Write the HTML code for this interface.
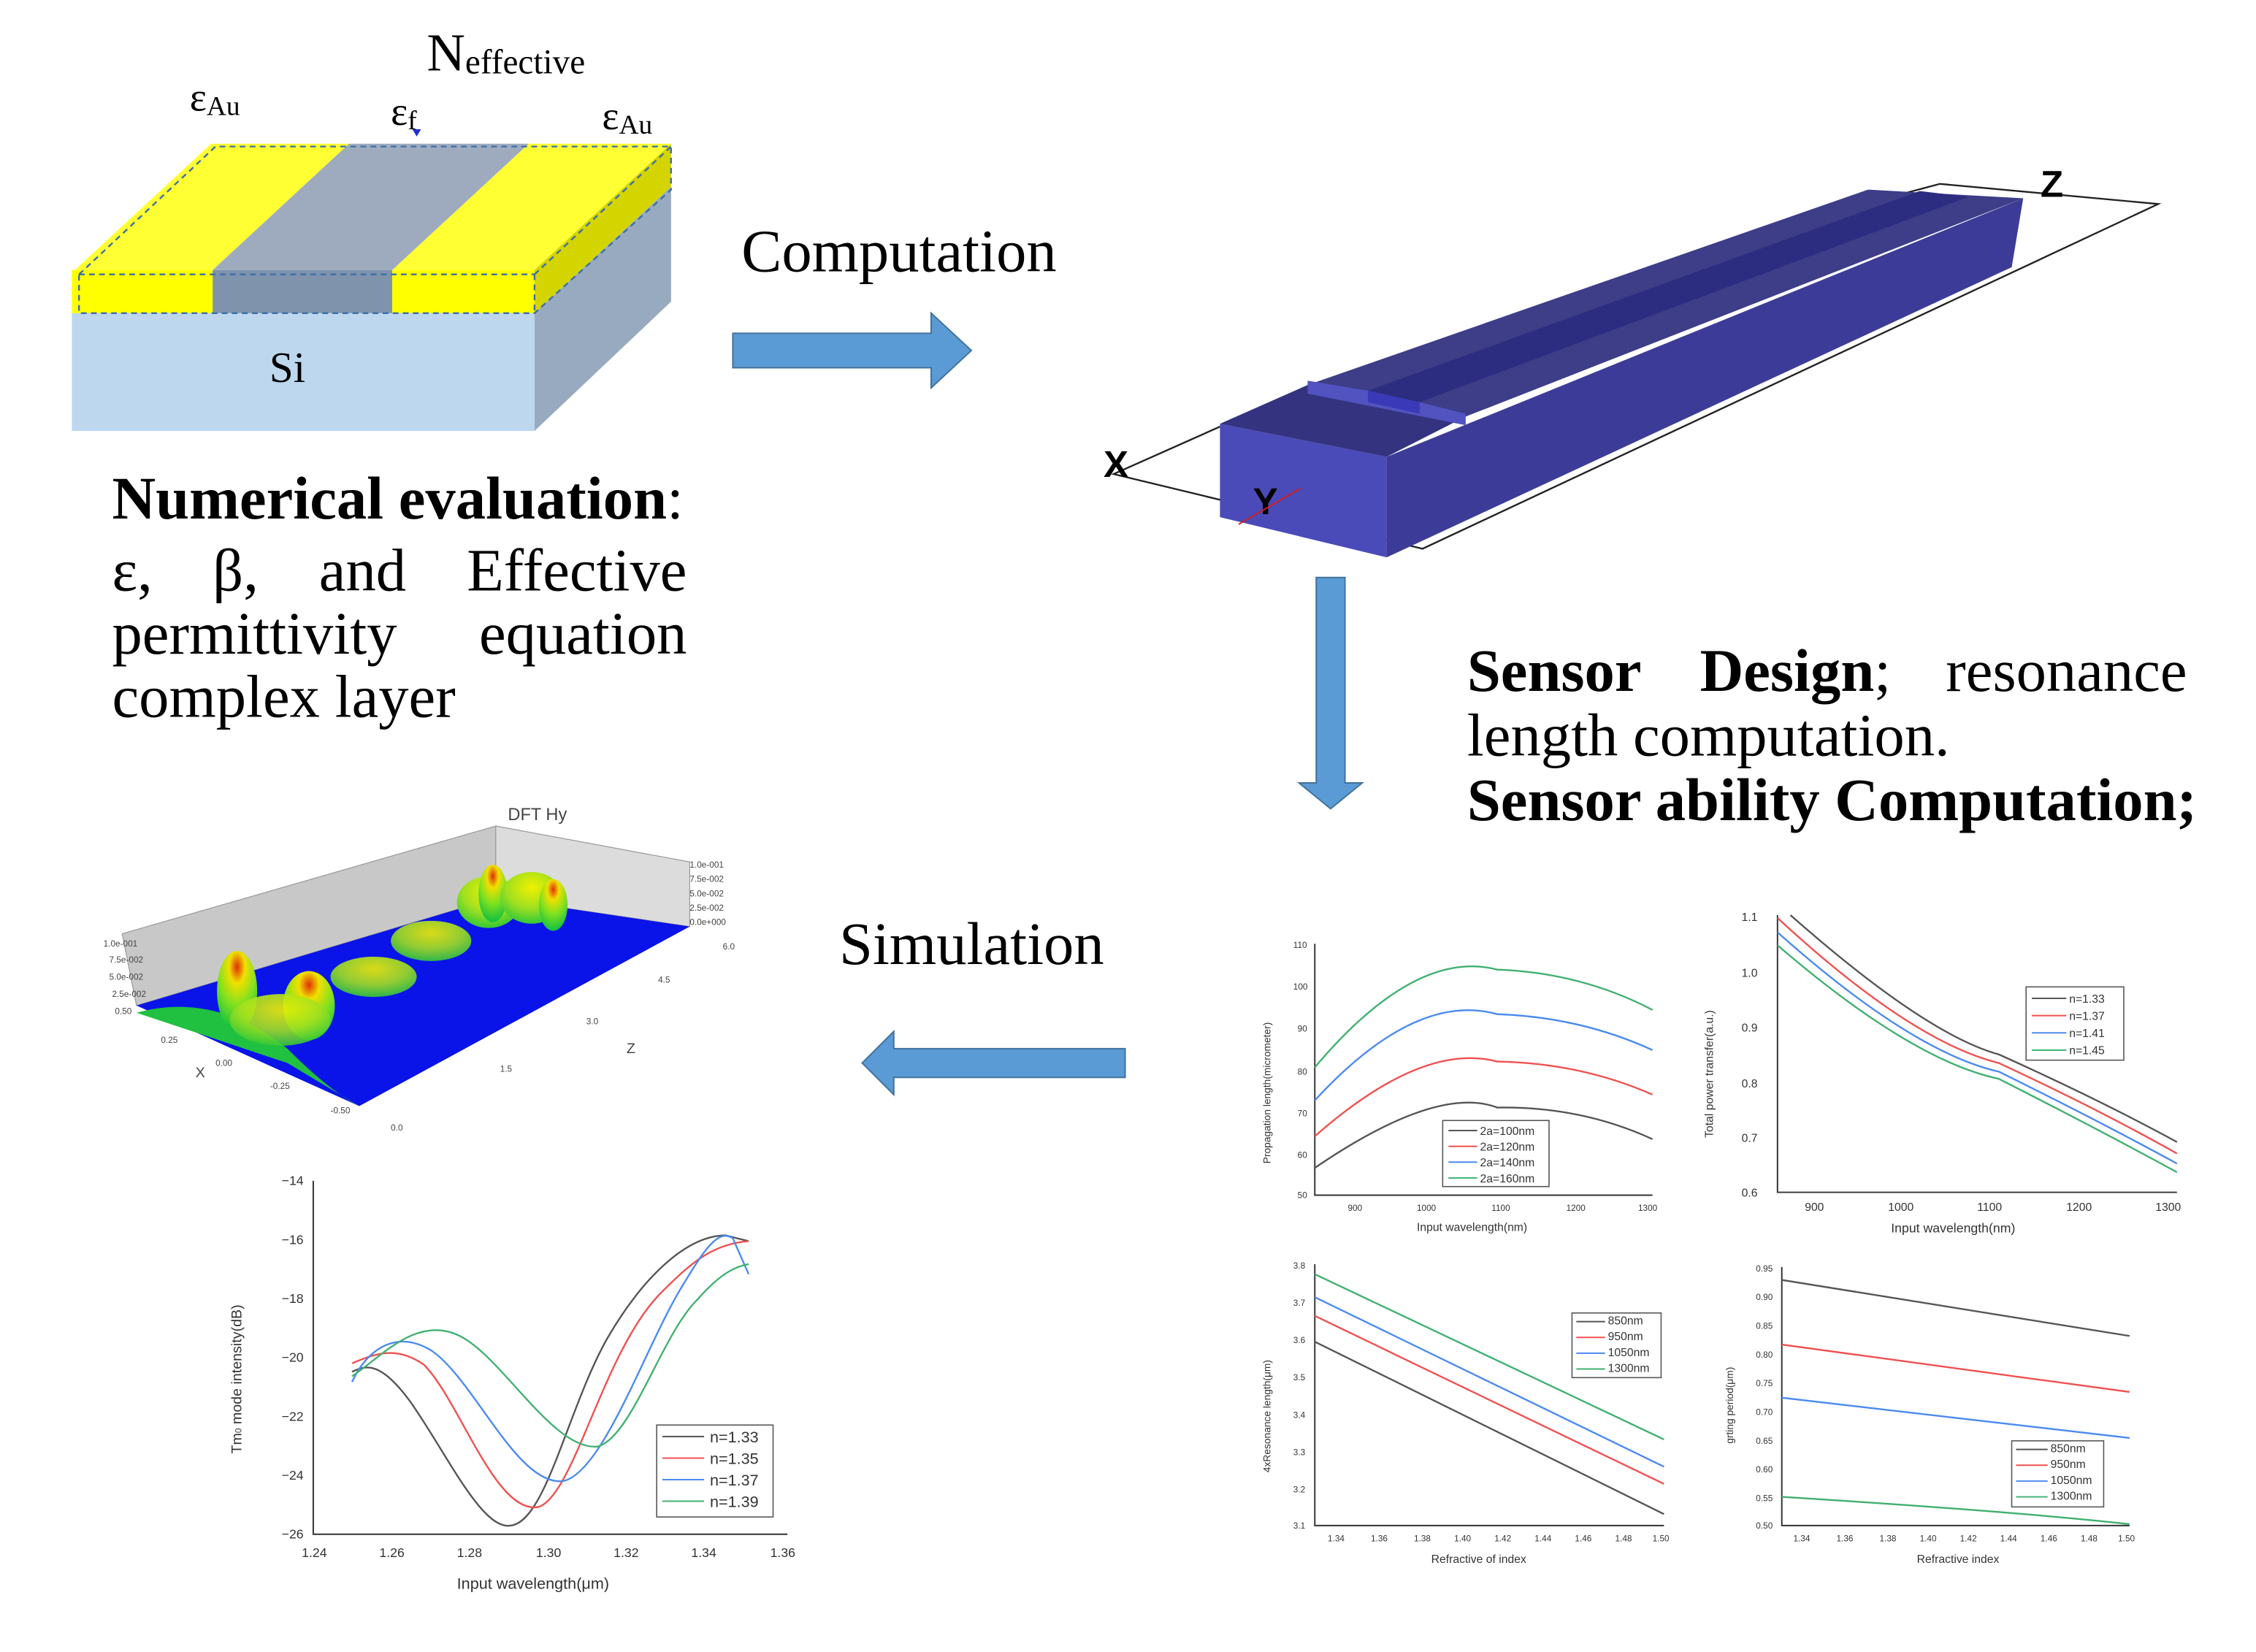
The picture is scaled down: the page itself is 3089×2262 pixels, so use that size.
<!DOCTYPE html>
<html><head><meta charset="utf-8"><style>
html,body{margin:0;padding:0;background:#fff;}
svg{display:block;}
.serif{font-family:"Liberation Serif",serif;}
.sans{font-family:"Liberation Sans",sans-serif;}
</style></head><body>
<svg width="3089" height="2262" viewBox="0 0 1570 1150" preserveAspectRatio="none" xmlns="http://www.w3.org/2000/svg">
<rect width="1570" height="1150" fill="#fff"/>
<!-- Left block -->
<polygon points="50,218 372,218 372,300 50,300" fill="#bdd7ee"/>
<polygon points="372,218 467,130 467,210 372,300" fill="#98aabf"/>
<polygon points="52,188 147,100 243,100 148,188" fill="#ffff33"/>
<polygon points="148,188 243,100 368,100 273,188" fill="#9eabbf"/>
<polygon points="273,188 368,100 467,100 372,188" fill="#ffff33"/>
<polygon points="50,188 148,188 148,218 50,218" fill="#ffff00"/>
<polygon points="148,188 273,188 273,218 148,218" fill="#8093ac"/>
<polygon points="273,188 372,188 372,218 273,218" fill="#ffff00"/>
<polygon points="372,188 467,100 467,130 372,218" fill="#d4d400"/>
<g fill="none" stroke="#3b6fa8" stroke-width="1.2" stroke-dasharray="4,3">
<polygon points="55,191 150,102 467,102 467,132 372,218 55,218"/>
<line x1="55" y1="191" x2="372" y2="191"/><line x1="372" y1="191" x2="467" y2="102"/><line x1="372" y1="191" x2="372" y2="218"/>
</g>
<text x="200" y="266" class="serif" font-size="30" text-anchor="middle">Si</text>
<text x="297" y="49" class="serif" font-size="37">N<tspan font-size="24" dy="2">effective</tspan></text>
<text x="132" y="77" class="serif" font-size="28">ε<tspan font-size="19" dy="3">Au</tspan></text>
<text x="272" y="87" class="serif" font-size="28">ε<tspan font-size="19" dy="3">f</tspan></text>
<path d="M287,90 l6,0 l-3,5z" fill="#2030d0"/>
<text x="419" y="90" class="serif" font-size="28">ε<tspan font-size="19" dy="3">Au</tspan></text>
<text x="78" y="361" class="serif" font-size="42"><tspan font-weight="bold">Numerical evaluation</tspan>:</text>
<g class="serif" font-size="42">
<text x="78" y="411">ε,</text><text x="148" y="411">β,</text><text x="222" y="411">and</text><text x="478" y="411" text-anchor="end">Effective</text>
<text x="78" y="455">permittivity</text><text x="478" y="455" text-anchor="end">equation</text>
<text x="78" y="499">complex layer</text>
</g>
<!-- Computation arrow -->
<text x="516" y="189" class="serif" font-size="42">Computation</text>
<polygon points="510,232 648,232 648,218 676,244 648,270 648,256 510,256" fill="#5b9bd5" stroke="#41719c" stroke-width="1"/>
<!-- 3D waveguide -->
<g fill="none" stroke="#222" stroke-width="1.2">
<polyline points="849,297 775,330 990,382 1502,142 1350,128 1320,136"/>
</g>
<polygon points="849,295 965,318 965,388 849,360" fill="#4a4ab8"/>
<polygon points="965,318 1408,138 1400,186 965,388" fill="#3c3c98"/>
<polygon points="849,295 910,268 1020,290 965,318" fill="#333380"/>
<polygon points="910,268 1300,132 1408,138 1020,290" fill="#3d3d88"/>
<polygon points="952,272 1336,133 1370,137 988,280" fill="#2c2c80"/>
<polygon points="910,265 952,272 988,280 1020,288 1020,296 910,274" fill="#5252c0"/>
<polygon points="952,272 988,280 988,288 952,280" fill="#3a3ab8"/>
<text x="768" y="332" class="sans" font-size="26" font-weight="bold">X</text>
<text x="872" y="358" class="sans" font-size="26" font-weight="bold">Y</text>
<line x1="862" y1="365" x2="905" y2="340" stroke="#d02020" stroke-width="1"/>
<text x="1420" y="137" class="sans" font-size="26" font-weight="bold">Z</text>
<!-- down arrow -->
<polygon points="916,402 936,402 936,545 948,545 926,563 904,545 916,545" fill="#5b9bd5" stroke="#41719c" stroke-width="1"/>
<g class="serif" font-size="42">
<text x="1021" y="481" font-weight="bold">Sensor</text><text x="1183" y="481" font-weight="bold">Design<tspan font-weight="normal">;</tspan></text><text x="1522" y="481" text-anchor="end">resonance</text>
<text x="1021" y="526">length computation.</text>
<text x="1021" y="571" font-weight="bold">Sensor ability Computation;</text>
</g>
<!-- Simulation arrow -->
<text x="584" y="671" class="serif" font-size="42">Simulation</text>
<polygon points="783,730 622,730 622,718 600,740 622,762 622,750 783,750" fill="#5b9bd5" stroke="#41719c" stroke-width="1"/>

<!-- Plot1 -->
<g class="sans" font-size="6" fill="#333">
<path d="M915,657 V832 H1150" fill="none" stroke="#333" stroke-width="1"/>
<text x="900" y="660">110</text><text x="900" y="689">100</text><text x="903" y="718">90</text><text x="903" y="748">80</text><text x="903" y="777">70</text><text x="903" y="806">60</text><text x="903" y="834">50</text>
<text x="938" y="843">900</text><text x="986" y="843">1000</text><text x="1038" y="843">1100</text><text x="1090" y="843">1200</text><text x="1140" y="843">1300</text>
<text x="986" y="857" font-size="8">Input wavelength(nm)</text>
<text transform="translate(884,810) rotate(-90)" font-size="7">Propagation length(micrometer)</text>
<path d="M915,813 Q1000,755 1042,771 Q1100,770 1150,793" fill="none" stroke="#555" stroke-width="1.2"/>
<path d="M915,791 Q990,725 1042,739 Q1100,740 1150,762" fill="none" stroke="#f05050" stroke-width="1.2"/>
<path d="M915,766 Q985,690 1042,706 Q1100,708 1150,731" fill="none" stroke="#4a8af0" stroke-width="1.2"/>
<path d="M915,743 Q985,660 1042,675 Q1100,677 1150,703" fill="none" stroke="#40b070" stroke-width="1.2"/>
<rect x="1004" y="780" width="74" height="46" fill="#fff" stroke="#555" stroke-width="0.8"/>
<line x1="1008" y1="787" x2="1028" y2="787" stroke="#555"/><text x="1030" y="790" font-size="8">2a=100nm</text>
<line x1="1008" y1="798" x2="1028" y2="798" stroke="#f05050"/><text x="1030" y="801" font-size="8">2a=120nm</text>
<line x1="1008" y1="809" x2="1028" y2="809" stroke="#4a8af0"/><text x="1030" y="812" font-size="8">2a=140nm</text>
<line x1="1008" y1="820" x2="1028" y2="820" stroke="#40b070"/><text x="1030" y="823" font-size="8">2a=160nm</text>
</g>
<!-- Plot2 -->
<g class="sans" font-size="8" fill="#333">
<path d="M1237,637 V830 H1515" fill="none" stroke="#333" stroke-width="1"/>
<text x="1212" y="641">1.1</text><text x="1212" y="680">1.0</text><text x="1212" y="718">0.9</text><text x="1212" y="757">0.8</text><text x="1212" y="795">0.7</text><text x="1212" y="833">0.6</text>
<text x="1256" y="843">900</text><text x="1314" y="843">1000</text><text x="1376" y="843">1100</text><text x="1438" y="843">1200</text><text x="1500" y="843">1300</text>
<text x="1316" y="858" font-size="9">Input wavelength(nm)</text>
<text transform="translate(1192,792) rotate(-90)" font-size="8">Total power transfer(a.u.)</text>
<path d="M1246,637 Q1340,720 1391,734 Q1460,765 1515,795" fill="none" stroke="#555" stroke-width="1.2"/>
<path d="M1237,639 Q1330,725 1391,740 Q1460,772 1515,803" fill="none" stroke="#f05050" stroke-width="1.2"/>
<path d="M1237,649 Q1330,732 1391,746 Q1460,780 1515,810" fill="none" stroke="#4a8af0" stroke-width="1.2"/>
<path d="M1237,658 Q1330,738 1391,751 Q1460,786 1515,816" fill="none" stroke="#40b070" stroke-width="1.2"/>
<rect x="1410" y="687" width="68" height="51" fill="#fff" stroke="#555" stroke-width="0.8"/>
<line x1="1414" y1="695" x2="1438" y2="695" stroke="#555"/><text x="1440" y="698">n=1.33</text>
<line x1="1414" y1="707" x2="1438" y2="707" stroke="#f05050"/><text x="1440" y="710">n=1.37</text>
<line x1="1414" y1="719" x2="1438" y2="719" stroke="#4a8af0"/><text x="1440" y="722">n=1.41</text>
<line x1="1414" y1="731" x2="1438" y2="731" stroke="#40b070"/><text x="1440" y="734">n=1.45</text>
</g>
<!-- Plot3 -->
<g class="sans" font-size="6" fill="#333">
<path d="M915,880 V1062 H1158" fill="none" stroke="#333" stroke-width="1"/>
<text x="900" y="883">3.8</text><text x="900" y="909">3.7</text><text x="900" y="935">3.6</text><text x="900" y="961">3.5</text><text x="900" y="987">3.4</text><text x="900" y="1013">3.3</text><text x="900" y="1039">3.2</text><text x="900" y="1064">3.1</text>
<text x="924" y="1073">1.34</text><text x="954" y="1073">1.36</text><text x="984" y="1073">1.38</text><text x="1012" y="1073">1.40</text><text x="1040" y="1073">1.42</text><text x="1068" y="1073">1.44</text><text x="1096" y="1073">1.46</text><text x="1124" y="1073">1.48</text><text x="1150" y="1073">1.50</text>
<text x="996" y="1088" font-size="8">Refractive of index</text>
<text transform="translate(884,1025) rotate(-90)" font-size="7">4xResonance length(μm)</text>
<line x1="915" y1="887" x2="1158" y2="1002" stroke="#40b070" stroke-width="1.2"/>
<line x1="915" y1="903" x2="1158" y2="1021" stroke="#4a8af0" stroke-width="1.2"/>
<line x1="915" y1="916" x2="1158" y2="1033" stroke="#f05050" stroke-width="1.2"/>
<line x1="915" y1="934" x2="1158" y2="1054" stroke="#555" stroke-width="1.2"/>
<rect x="1094" y="914" width="62" height="45" fill="#fff" stroke="#555" stroke-width="0.8"/>
<line x1="1097" y1="920" x2="1117" y2="920" stroke="#555"/><text x="1119" y="922" font-size="8">850nm</text>
<line x1="1097" y1="931" x2="1117" y2="931" stroke="#f05050"/><text x="1119" y="933" font-size="8">950nm</text>
<line x1="1097" y1="942" x2="1117" y2="942" stroke="#4a8af0"/><text x="1119" y="944" font-size="8">1050nm</text>
<line x1="1097" y1="953" x2="1117" y2="953" stroke="#40b070"/><text x="1119" y="955" font-size="8">1300nm</text>
</g>
<!-- Plot4 -->
<g class="sans" font-size="6" fill="#333">
<path d="M1240,882 V1062 H1482" fill="none" stroke="#333" stroke-width="1"/>
<text x="1222" y="885">0.95</text><text x="1222" y="905">0.90</text><text x="1222" y="925">0.85</text><text x="1222" y="945">0.80</text><text x="1222" y="965">0.75</text><text x="1222" y="985">0.70</text><text x="1222" y="1005">0.65</text><text x="1222" y="1025">0.60</text><text x="1222" y="1045">0.55</text><text x="1222" y="1064">0.50</text>
<text x="1248" y="1073">1.34</text><text x="1278" y="1073">1.36</text><text x="1308" y="1073">1.38</text><text x="1336" y="1073">1.40</text><text x="1364" y="1073">1.42</text><text x="1392" y="1073">1.44</text><text x="1420" y="1073">1.46</text><text x="1448" y="1073">1.48</text><text x="1474" y="1073">1.50</text>
<text x="1334" y="1088" font-size="8">Refractive index</text>
<text transform="translate(1206,1005) rotate(-90)" font-size="7">grting period(μm)</text>
<line x1="1240" y1="891" x2="1482" y2="930" stroke="#555" stroke-width="1.2"/>
<line x1="1240" y1="936" x2="1482" y2="969" stroke="#f05050" stroke-width="1.2"/>
<line x1="1240" y1="973" x2="1482" y2="1001" stroke="#4a8af0" stroke-width="1.2"/>
<path d="M1240,1042 Q1400,1052 1482,1061" fill="none" stroke="#40b070" stroke-width="1.2"/>
<rect x="1400" y="1003" width="64" height="46" fill="#fff" stroke="#555" stroke-width="0.8"/>
<line x1="1403" y1="1009" x2="1425" y2="1009" stroke="#555"/><text x="1427" y="1011" font-size="8">850nm</text>
<line x1="1403" y1="1020" x2="1425" y2="1020" stroke="#f05050"/><text x="1427" y="1022" font-size="8">950nm</text>
<line x1="1403" y1="1031" x2="1425" y2="1031" stroke="#4a8af0"/><text x="1427" y="1033" font-size="8">1050nm</text>
<line x1="1403" y1="1042" x2="1425" y2="1042" stroke="#40b070"/><text x="1427" y="1044" font-size="8">1300nm</text>
</g>

<!-- DFT surface -->
<defs>
<radialGradient id="pk" cx="50%" cy="20%" r="80%">
<stop offset="0" stop-color="#e03000"/><stop offset="0.25" stop-color="#f0e000"/><stop offset="0.6" stop-color="#80e020"/><stop offset="1" stop-color="#10c040"/>
</radialGradient>
<radialGradient id="pk2" cx="50%" cy="30%" r="80%">
<stop offset="0" stop-color="#f0f000"/><stop offset="0.5" stop-color="#a0e020"/><stop offset="1" stop-color="#10c040"/>
</radialGradient>
</defs>
<text x="374" y="571" class="sans" font-size="12" fill="#444" text-anchor="middle">DFT Hy</text>
<polygon points="85,650 345,575 345,625 95,700" fill="#c8c8c8" stroke="#999" stroke-width="0.6"/>
<polygon points="345,575 480,600 480,645 345,625" fill="#dcdcdc" stroke="#999" stroke-width="0.6"/>
<polygon points="95,700 345,625 480,645 250,770" fill="#0a14e8"/>
<path d="M95,705 Q150,690 200,730 Q230,760 250,770 L200,740 Z" fill="#20c040"/>
<ellipse cx="165" cy="690" rx="14" ry="28" fill="url(#pk)"/>
<ellipse cx="215" cy="700" rx="18" ry="24" fill="url(#pk)"/>
<ellipse cx="195" cy="710" rx="35" ry="18" fill="url(#pk2)" opacity="0.9"/>
<ellipse cx="260" cy="680" rx="30" ry="14" fill="url(#pk2)" opacity="0.9"/>
<ellipse cx="300" cy="655" rx="28" ry="14" fill="url(#pk2)" opacity="0.9"/>
<ellipse cx="340" cy="628" rx="22" ry="18" fill="url(#pk2)"/>
<ellipse cx="343" cy="622" rx="10" ry="20" fill="url(#pk)"/>
<ellipse cx="370" cy="625" rx="22" ry="18" fill="url(#pk2)"/>
<ellipse cx="385" cy="630" rx="10" ry="18" fill="url(#pk)"/>
<g class="sans" font-size="6" fill="#444">
<text x="72" y="659">1.0e-001</text><text x="76" y="670">7.5e-002</text><text x="76" y="682">5.0e-002</text><text x="78" y="694">2.5e-002</text><text x="80" y="706">0.50</text>
<text x="480" y="604">1.0e-001</text><text x="480" y="614">7.5e-002</text><text x="480" y="624">5.0e-002</text><text x="480" y="634">2.5e-002</text><text x="480" y="644">0.0e+000</text>
<text x="503" y="661">6.0</text><text x="458" y="684">4.5</text><text x="408" y="713">3.0</text><text x="348" y="746">1.5</text><text x="272" y="787">0.0</text>
<text x="112" y="726">0.25</text><text x="150" y="742">0.00</text><text x="188" y="758">-0.25</text><text x="230" y="775">-0.50</text>
<text x="436" y="733" font-size="10">Z</text><text x="136" y="750" font-size="10">X</text>
</g>
<!-- Bottom chart -->
<g class="sans" font-size="9" fill="#333">
<path d="M218,822 V1068 H548" fill="none" stroke="#333" stroke-width="1"/>
<text x="196" y="825">−14</text><text x="196" y="866">−16</text><text x="196" y="907">−18</text><text x="196" y="948">−20</text><text x="196" y="989">−22</text><text x="196" y="1030">−24</text><text x="196" y="1071">−26</text>
<text x="210" y="1084">1.24</text><text x="264" y="1084">1.26</text><text x="318" y="1084">1.28</text><text x="373" y="1084">1.30</text><text x="427" y="1084">1.32</text><text x="481" y="1084">1.34</text><text x="536" y="1084">1.36</text>
<text x="318" y="1106" font-size="11">Input wavelength(μm)</text>
<text transform="translate(168,1012) rotate(-90)" font-size="10">Tm<tspan font-size="6">0</tspan> mode intensity(dB)</text>
<path d="M245,955 C255,950 265,948 285,975 C310,1010 335,1065 355,1062 C380,1060 395,980 423,931 C450,885 480,860 505,860 L521,864" fill="none" stroke="#555" stroke-width="1.2"/>
<path d="M245,949 C260,943 275,936 295,950 C320,975 345,1055 375,1049 C400,1040 420,940 460,900 C480,880 495,866 521,864" fill="none" stroke="#f05050" stroke-width="1.2"/>
<path d="M245,962 C255,940 275,925 300,940 C330,960 360,1035 392,1031 C420,1025 450,935 475,895 C490,870 500,855 510,862 L521,887" fill="none" stroke="#4a8af0" stroke-width="1.2"/>
<path d="M245,958 C265,945 290,915 320,930 C350,945 385,1010 416,1007 C440,1000 460,930 485,905 C500,888 510,882 521,880" fill="none" stroke="#40b070" stroke-width="1.2"/>
<rect x="457" y="992" width="81" height="64" fill="#fff" stroke="#555" stroke-width="0.8"/>
<line x1="461" y1="1000" x2="490" y2="1000" stroke="#555"/><text x="494" y="1004" font-size="11">n=1.33</text>
<line x1="461" y1="1015" x2="490" y2="1015" stroke="#f05050"/><text x="494" y="1019" font-size="11">n=1.35</text>
<line x1="461" y1="1030" x2="490" y2="1030" stroke="#4a8af0"/><text x="494" y="1034" font-size="11">n=1.37</text>
<line x1="461" y1="1045" x2="490" y2="1045" stroke="#40b070"/><text x="494" y="1049" font-size="11">n=1.39</text>
</g>
</svg>
</body></html>
